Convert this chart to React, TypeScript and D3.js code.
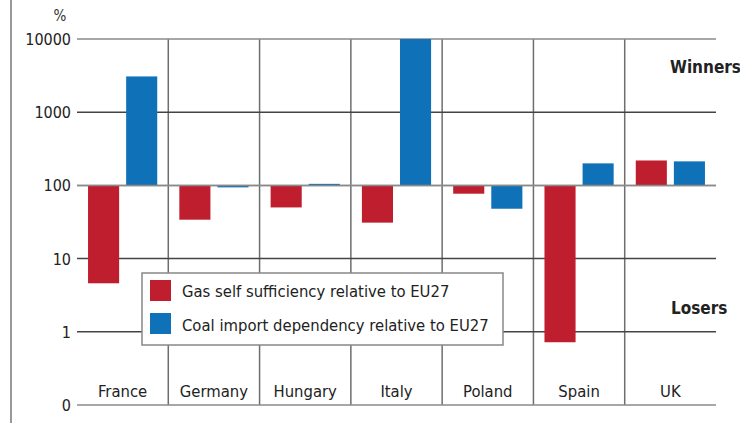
import React from "react";
import * as d3 from "d3";

const countries = ["France", "Germany", "Hungary", "Italy", "Poland", "Spain", "UK"];
const gasSelfSufficiency = [4.6, 34, 50, 31, 77, 0.72, 219];
const coalImportDependency = [3080, 94, 105, 10000, 48, 200, 213];
const tickValues = [0.1, 1, 10, 100, 1000, 10000];
const tickLabels = ["0", "1", "10", "100", "1000", "10000"];
const seriesNames = ["Gas self sufficiency relative to EU27", "Coal import dependency relative to EU27"];
const seriesColors = ["#be1e2d", "#0f72b9"];

const W = 740, H = 423;
const font = "'DejaVu Sans Condensed', 'Roboto', sans-serif";

const App: React.FC = () => {
  const x = d3.scaleBand().domain(countries).range([77, 716]).padding(0);
  const inner = d3.scaleBand().domain(["gas", "coal"]).range([0, x.bandwidth()])
    .paddingInner(0.184).paddingOuter(0.29);
  const y = d3.scaleLog().domain([0.1, 10000]).range([405, 39]);
  const base = y(100);

  const series = [gasSelfSufficiency, coalImportDependency];
  const keys = ["gas", "coal"];

  return (
    <svg width={W} height={H} style={{ position: "absolute", left: 0, top: 0, background: "#fff" }}>
      {/* left frame line */}
      <line x1={11} x2={11} y1={0} y2={H} stroke="#999" strokeWidth={2} />

      <text x={60} y={21} fontFamily={font} fontSize={15} fill="#333" textAnchor="middle">%</text>

      {/* country separators */}
      {countries.slice(1).map(c => (
        <line key={c} x1={x(c)} x2={x(c)} y1={y(10000)} y2={y(0.1)} stroke="#6e6e6e" strokeWidth={1.5} />
      ))}

      {/* horizontal grid + y labels */}
      {tickValues.map((v, i) => (
        <g key={v}>
          <line x1={77} x2={716} y1={y(v)} y2={y(v)}
            stroke={v === 0.1 || v === 10000 || v === 100 ? "#8a8a8a" : "#444"} strokeWidth={1.5} />
          <text x={71} y={y(v) + 6} fontFamily={font} fontSize={16} fill="#222" textAnchor="end">{tickLabels[i]}</text>
        </g>
      ))}

      {/* bars */}
      {series.map((vals, s) =>
        vals.map((v, i) => {
          const bx = (x(countries[i]) || 0) + (inner(keys[s]) || 0);
          const yv = y(v);
          return (
            <rect key={`${s}-${i}`} x={bx} width={inner.bandwidth()}
              y={Math.min(yv, base)} height={Math.abs(yv - base)} fill={seriesColors[s]} />
          );
        })
      )}

      <line x1={77} x2={716} y1={base} y2={base} stroke="#8a8a8a" strokeWidth={1.5} />

      {/* category labels */}
      {countries.map(c => (
        <text key={c} x={(x(c) || 0) + x.bandwidth() / 2} y={397} fontFamily={font} fontSize={16.5}
          fill="#222" textAnchor="middle">{c}</text>
      ))}

      <text x={670} y={73} fontFamily={font} fontSize={17} fontWeight="bold" fill="#222">Winners</text>
      <text x={671} y={314} fontFamily={font} fontSize={17} fontWeight="bold" fill="#222">Losers</text>

      {/* legend */}
      <rect x={142} y={273} width={361} height={72} fill="#fff" stroke="#888" strokeWidth={1.5} />
      {seriesNames.map((n, i) => (
        <g key={n}>
          <rect x={150} y={280 + i * 33} width={21} height={21} fill={seriesColors[i]} />
          <text x={182} y={297 + i * 34} fontFamily={font} fontSize={16.5} fill="#222">{n}</text>
        </g>
      ))}
    </svg>
  );
};

export default App;
